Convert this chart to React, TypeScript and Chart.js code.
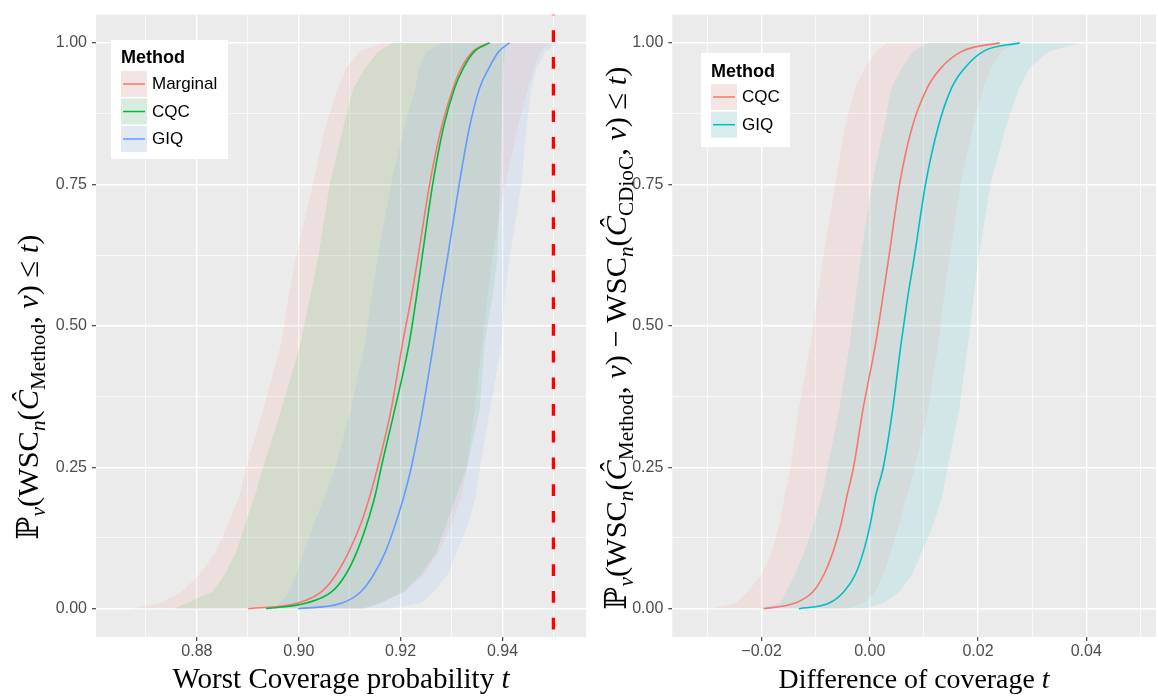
import React, { useEffect, useRef } from 'react';
import { Chart, registerables } from 'chart.js';

Chart.register(...registerables);

// ---------------- data ----------------
const PROB_LEVELS = [0, 0.01, 0.03, 0.06, 0.1, 0.15, 0.2, 0.25, 0.35, 0.47, 0.55, 0.62, 0.75, 0.85, 0.92, 0.955, 0.985, 1];

// Left panel: worst coverage probability t (quantiles at PROB_LEVELS)
const MARGINAL_MID = [0.8901, 0.8999, 0.9045, 0.9073, 0.9098, 0.9122, 0.914, 0.9155, 0.9181, 0.9204, 0.9221, 0.9234, 0.9257, 0.928, 0.9303, 0.9319, 0.9342, 0.9373];
const MARGINAL_LO = [0.8668, 0.8728, 0.877, 0.8805, 0.8837, 0.8862, 0.8884, 0.8897, 0.893, 0.8966, 0.898, 0.8994, 0.9028, 0.9052, 0.9077, 0.9093, 0.912, 0.9162];
const MARGINAL_HI = [0.912, 0.916, 0.921, 0.9245, 0.9275, 0.93, 0.932, 0.933, 0.9345, 0.936, 0.937, 0.938, 0.9405, 0.943, 0.945, 0.9462, 0.9475, 0.9492];

const CQC_MID = [0.8936, 0.9015, 0.9065, 0.9092, 0.9114, 0.9134, 0.915, 0.9162, 0.9188, 0.9217, 0.9231, 0.9242, 0.9263, 0.9284, 0.9306, 0.9323, 0.9345, 0.9375];
const CQC_LO = [0.8755, 0.878, 0.883, 0.8855, 0.8877, 0.8895, 0.8914, 0.893, 0.8965, 0.9004, 0.9022, 0.9038, 0.9061, 0.9087, 0.9107, 0.913, 0.9156, 0.9184];
const CQC_HI = [0.913, 0.916, 0.9205, 0.924, 0.927, 0.929, 0.931, 0.933, 0.9355, 0.9365, 0.938, 0.939, 0.9395, 0.9398, 0.94, 0.9402, 0.9405, 0.9408];

const GIQ_MID = [0.8999, 0.9085, 0.9122, 0.9147, 0.917, 0.919, 0.9207, 0.9221, 0.9243, 0.9265, 0.9279, 0.9292, 0.9315, 0.9335, 0.9355, 0.9373, 0.9393, 0.9414];
const GIQ_LO = [0.8955, 0.8965, 0.898, 0.8995, 0.901, 0.903, 0.9052, 0.9072, 0.9102, 0.913, 0.9143, 0.9155, 0.9181, 0.9207, 0.9229, 0.9236, 0.9251, 0.9279];
const GIQ_HI = [0.918, 0.924, 0.9265, 0.9292, 0.931, 0.9333, 0.9348, 0.9356, 0.9375, 0.9399, 0.9404, 0.9414, 0.9437, 0.9447, 0.9457, 0.9467, 0.9485, 0.951];

const TARGET_COVERAGE = 0.95;

// Right panel: difference of coverage t (relative to CDioC)
const DIFF_CQC_MID = [-0.0196, -0.0138, -0.0105, -0.0085, -0.0068, -0.0053, -0.0042, -0.003, -0.0013, 0.0011, 0.0024, 0.0035, 0.0055, 0.0078, 0.0106, 0.0131, 0.017, 0.024];
const DIFF_CQC_LO = [-0.0296, -0.0247, -0.0225, -0.0201, -0.0181, -0.0167, -0.0157, -0.0146, -0.0132, -0.0109, -0.0097, -0.0086, -0.0064, -0.0046, -0.0027, -0.0009, 0.0012, 0.0032];
const DIFF_CQC_HI = [-0.0044, -0.001, 0.001, 0.0025, 0.0039, 0.0055, 0.0069, 0.0083, 0.0107, 0.0127, 0.0137, 0.0147, 0.0168, 0.019, 0.021, 0.0223, 0.0244, 0.0271];

const DIFF_GIQ_MID = [-0.0131, -0.0075, -0.0048, -0.0027, -0.0012, 0.0001, 0.0011, 0.0025, 0.0042, 0.0058, 0.007, 0.0082, 0.0103, 0.0126, 0.0151, 0.0175, 0.021, 0.0277];
const DIFF_GIQ_LO = [-0.0208, -0.0166, -0.0154, -0.0139, -0.0121, -0.0103, -0.0089, -0.0078, -0.0057, -0.0037, -0.0026, -0.0017, 0.0004, 0.0026, 0.004, 0.0059, 0.008, 0.0107];
const DIFF_GIQ_HI = [-0.0009, 0.0025, 0.0055, 0.0078, 0.0096, 0.0118, 0.0134, 0.0144, 0.0165, 0.0182, 0.0192, 0.0201, 0.0223, 0.0251, 0.0276, 0.0295, 0.033, 0.039];

// Axes
const LEFT_X_MAJOR = [0.88, 0.9, 0.92, 0.94];
const LEFT_X_MINOR = [0.87, 0.89, 0.91, 0.93, 0.95];
const RIGHT_X_MAJOR = [-0.02, 0, 0.02, 0.04];
const RIGHT_X_MINOR = [-0.03, -0.01, 0.01, 0.03, 0.05];
const Y_MAJOR = [0, 0.25, 0.5, 0.75, 1];
const Y_MINOR = [0.125, 0.375, 0.625, 0.875];
const LEFT_X_LIMITS = [0.8602, 0.9564];
const RIGHT_X_LIMITS = [-0.0365, 0.0529];
const Y_LIMITS = [-0.05, 1.05];

const LEFT_METHODS = ['Marginal', 'CQC', 'GIQ'];
const RIGHT_METHODS = ['CQC', 'GIQ'];
const HUE3 = ['#F8766D', '#00BA38', '#619CFF'];
const HUE2 = ['#F8766D', '#00BFC4'];

// ---------------- helpers ----------------
const SERIF = '"Liberation Serif", "DejaVu Serif", serif';
const SANS = '"Liberation Sans", Arial, sans-serif';

type Seg = { t: string; it?: boolean; sub?: boolean };

function hexA(hex: string, a: number) {
  const n = parseInt(hex.slice(1), 16);
  return `rgba(${(n >> 16) & 255},${(n >> 8) & 255},${n & 255},${a})`;
}
const isIn = (arr: number[], v: number) => arr.some((a) => Math.abs(a - v) < 1e-9);

function segFont(s: Seg, size: number) {
  const sz = s.sub ? size * 0.7 : size;
  return `${s.it ? 'italic ' : ''}${sz}px ${SERIF}`;
}
function richWidth(ctx: CanvasRenderingContext2D, segs: Seg[], size: number) {
  let w = 0;
  for (const s of segs) {
    ctx.font = segFont(s, size);
    w += ctx.measureText(s.t).width;
  }
  return w;
}
function drawRich(ctx: CanvasRenderingContext2D, segs: Seg[], len: number, center: number, baseline: number, vertical: boolean) {
  ctx.save();
  const w0 = richWidth(ctx, segs, 20);
  const size = (20 * len) / w0;
  const w = richWidth(ctx, segs, size);
  ctx.fillStyle = '#000';
  ctx.textAlign = 'left';
  ctx.textBaseline = 'alphabetic';
  if (vertical) {
    ctx.translate(baseline, center);
    ctx.rotate(-Math.PI / 2);
  } else {
    ctx.translate(center, baseline);
  }
  let x = -w / 2;
  for (const s of segs) {
    ctx.font = segFont(s, size);
    ctx.fillText(s.t, x, s.sub ? size * 0.22 : 0);
    x += ctx.measureText(s.t).width;
  }
  ctx.restore();
}

type Series = { name: string; color: string; mid: number[]; lo: number[]; hi: number[] };
type LegendSpec = { x: number; y: number; w: number; h: number; titleBase: number; keyY: number; keyStep: number };
type PanelSpec = {
  series: Series[];
  vline?: number;
  xLimits: number[];
  xMajor: number[];
  xMinor: number[];
  xFmt: (v: number) => string;
  yAxisWidth: number;
  padRight: number;
  legend: LegendSpec;
  xTitle: { segs: Seg[]; center: number; baseline: number; len: number };
  yTitle: { segs: Seg[]; center: number; baseline: number; len: number };
};

function drawLegend(ctx: CanvasRenderingContext2D, L: LegendSpec, items: Series[]) {
  ctx.save();
  ctx.fillStyle = '#FFFFFF';
  ctx.fillRect(L.x, L.y, L.w, L.h);
  const kx = L.x + 10;
  ctx.fillStyle = '#000';
  ctx.font = `bold 18px ${SANS}`;
  ctx.textAlign = 'left';
  ctx.textBaseline = 'alphabetic';
  ctx.fillText('Method', kx, L.titleBase);
  items.forEach((it, i) => {
    const ky = L.keyY + i * L.keyStep;
    ctx.fillStyle = '#F2F2F2';
    ctx.fillRect(kx, ky, 26, 26);
    ctx.fillStyle = hexA(it.color, 0.1);
    ctx.fillRect(kx, ky, 26, 26);
    ctx.strokeStyle = it.color;
    ctx.lineWidth = 1.5;
    ctx.beginPath();
    ctx.moveTo(kx + 2, ky + 13);
    ctx.lineTo(kx + 24, ky + 13);
    ctx.stroke();
    ctx.fillStyle = '#000';
    ctx.font = `17px ${SANS}`;
    ctx.textBaseline = 'middle';
    ctx.fillText(it.name, kx + 31, ky + 13.5);
    ctx.textBaseline = 'alphabetic';
  });
  ctx.restore();
}

function buildConfig(spec: PanelSpec): any {
  const ribbons = spec.series.map((s, i) => ({
    label: s.name + ' band',
    data: [
      ...PROB_LEVELS.map((p, j) => ({ x: s.lo[j], y: p })),
      ...PROB_LEVELS.map((p, j) => ({ x: s.hi[j], y: p })).reverse(),
    ],
    fill: 'shape',
    backgroundColor: hexA(s.color, 0.1),
    borderWidth: 0,
    pointRadius: 0,
    tension: 0,
    order: 10 - i,
  }));
  const lines = spec.series.map((s, i) => ({
    label: s.name,
    data: PROB_LEVELS.map((p, j) => ({ x: s.mid[j], y: p })),
    fill: false,
    borderColor: s.color,
    borderWidth: 1.6,
    pointRadius: 0,
    cubicInterpolationMode: 'monotone',
    order: 5 - i,
  }));
  const datasets: any[] = [...lines, ...ribbons];
  if (spec.vline !== undefined) {
    datasets.push({
      label: 'target',
      data: [
        { x: spec.vline, y: Y_LIMITS[1] },
        { x: spec.vline, y: Y_LIMITS[0] },
      ],
      fill: false,
      borderColor: '#FF0000',
      borderWidth: 3.3,
      borderDash: [11.7, 15],
      borderDashOffset: 11,
      pointRadius: 0,
      order: 0,
    });
  }

  const xTicksAll = [...spec.xMajor, ...spec.xMinor].sort((a, b) => a - b);
  const yTicksAll = [...Y_MAJOR, ...Y_MINOR].sort((a, b) => a - b);

  const panelPlugin = {
    id: 'panelDecor',
    beforeDraw(chart: any) {
      const { ctx, chartArea: a } = chart;
      ctx.save();
      ctx.fillStyle = '#FFFFFF';
      ctx.fillRect(0, 0, chart.width, chart.height);
      ctx.fillStyle = '#EBEBEB';
      ctx.fillRect(a.left, a.top, a.right - a.left, a.bottom - a.top);
      ctx.restore();
    },
    afterDraw(chart: any) {
      const ctx = chart.ctx as CanvasRenderingContext2D;
      drawLegend(ctx, spec.legend, spec.series);
      drawRich(ctx, spec.xTitle.segs, spec.xTitle.len, spec.xTitle.center, spec.xTitle.baseline, false);
      drawRich(ctx, spec.yTitle.segs, spec.yTitle.len, spec.yTitle.center, spec.yTitle.baseline, true);
    },
  };

  return {
    type: 'line',
    data: { datasets },
    plugins: [panelPlugin],
    options: {
      animation: false,
      responsive: false,
      devicePixelRatio: 1,
      events: [],
      layout: { padding: { left: 0, right: spec.padRight, top: 6, bottom: 0 } },
      plugins: { legend: { display: false }, tooltip: { enabled: false }, title: { display: false } },
      scales: {
        x: {
          type: 'linear',
          min: spec.xLimits[0],
          max: spec.xLimits[1],
          afterBuildTicks: (s: any) => {
            s.ticks = xTicksAll.map((v) => ({ value: v }));
          },
          afterFit: (s: any) => {
            s.height = 59;
          },
          border: { display: false },
          grid: {
            color: '#FFFFFF',
            lineWidth: (c: any) => (c.tick && isIn(spec.xMajor, c.tick.value) ? 1.4 : 0.7),
            drawTicks: true,
            tickLength: 4,
            tickWidth: 1.1,
            tickColor: (c: any) => (c.tick && isIn(spec.xMajor, c.tick.value) ? '#333333' : 'rgba(0,0,0,0)'),
          },
          ticks: {
            autoSkip: false,
            maxRotation: 0,
            minRotation: 0,
            padding: 1,
            color: '#4D4D4D',
            font: { family: SANS, size: 16 },
            callback: (v: number) => (isIn(spec.xMajor, v) ? spec.xFmt(v) : ''),
          },
        },
        y: {
          type: 'linear',
          min: Y_LIMITS[0],
          max: Y_LIMITS[1],
          afterBuildTicks: (s: any) => {
            s.ticks = yTicksAll.map((v) => ({ value: v }));
          },
          afterFit: (s: any) => {
            s.width = spec.yAxisWidth;
          },
          border: { display: false },
          grid: {
            color: '#FFFFFF',
            lineWidth: (c: any) => (c.tick && isIn(Y_MAJOR, c.tick.value) ? 1.4 : 0.7),
            drawTicks: true,
            tickLength: 4,
            tickWidth: 1.1,
            tickColor: (c: any) => (c.tick && isIn(Y_MAJOR, c.tick.value) ? '#333333' : 'rgba(0,0,0,0)'),
          },
          ticks: {
            autoSkip: false,
            padding: 5,
            color: '#4D4D4D',
            font: { family: SANS, size: 16 },
            callback: (v: number) => (isIn(Y_MAJOR, v) ? v.toFixed(2) : ''),
          },
        },
      },
    },
  };
}

const fmtSigned = (v: number) => (v < -1e-12 ? '\u2212' + Math.abs(v).toFixed(2) : Math.abs(v).toFixed(2));

const LEFT_SPEC: PanelSpec = {
  series: LEFT_METHODS.map((name, i) => ({
    name,
    color: HUE3[i],
    mid: [MARGINAL_MID, CQC_MID, GIQ_MID][i],
    lo: [MARGINAL_LO, CQC_LO, GIQ_LO][i],
    hi: [MARGINAL_HI, CQC_HI, GIQ_HI][i],
  })),
  vline: TARGET_COVERAGE,
  xLimits: LEFT_X_LIMITS,
  xMajor: LEFT_X_MAJOR,
  xMinor: LEFT_X_MINOR,
  xFmt: (v) => v.toFixed(2),
  yAxisWidth: 96,
  padRight: 4,
  legend: { x: 111, y: 40, w: 117, h: 119, titleBase: 63, keyY: 71, keyStep: 27.5 },
  xTitle: { segs: [{ t: 'Worst Coverage probability ' }, { t: 't', it: true }], center: 341, baseline: 688, len: 337 },
  yTitle: {
    segs: [
      { t: '\u2119' }, { t: 'v', it: true, sub: true }, { t: '(WSC' }, { t: 'n', it: true, sub: true }, { t: '(' },
      { t: '\u0108', it: true }, { t: 'Method', sub: true }, { t: ', ' }, { t: 'v', it: true }, { t: ') \u2264 ' },
      { t: 't', it: true }, { t: ')' },
    ],
    center: 387,
    baseline: 38,
    len: 305,
  },
};

const RIGHT_SPEC: PanelSpec = {
  series: RIGHT_METHODS.map((name, i) => ({
    name,
    color: HUE2[i],
    mid: [DIFF_CQC_MID, DIFF_GIQ_MID][i],
    lo: [DIFF_CQC_LO, DIFF_GIQ_LO][i],
    hi: [DIFF_CQC_HI, DIFF_GIQ_HI][i],
  })),
  xLimits: RIGHT_X_LIMITS,
  xMajor: RIGHT_X_MAJOR,
  xMinor: RIGHT_X_MINOR,
  xFmt: fmtSigned,
  yAxisWidth: 82.3,
  padRight: 2,
  legend: { x: 111, y: 53, w: 89, h: 94, titleBase: 77, keyY: 84, keyStep: 27.7 },
  xTitle: { segs: [{ t: 'Difference of coverage ' }, { t: 't', it: true }], center: 324, baseline: 688, len: 271 },
  yTitle: {
    segs: [
      { t: '\u2119' }, { t: 'v', it: true, sub: true }, { t: '(WSC' }, { t: 'n', it: true, sub: true }, { t: '(' },
      { t: '\u0108', it: true }, { t: 'Method', sub: true }, { t: ', ' }, { t: 'v', it: true }, { t: ') \u2212 WSC' },
      { t: 'n', it: true, sub: true }, { t: '(' }, { t: '\u0108', it: true }, { t: 'CDioC', sub: true }, { t: ', ' },
      { t: 'v', it: true }, { t: ') \u2264 ' }, { t: 't', it: true }, { t: ')' },
    ],
    center: 338,
    baseline: 36,
    len: 543,
  },
};

function Panel({ spec, left, width }: { spec: PanelSpec; left: number; width: number }) {
  const ref = useRef<HTMLCanvasElement>(null);
  useEffect(() => {
    const chart = new Chart(ref.current as HTMLCanvasElement, buildConfig(spec));
    return () => chart.destroy();
  }, [spec]);
  return (
    <canvas
      ref={ref}
      width={width}
      height={696}
      style={{ position: 'absolute', left, top: 0, width, height: 696, display: 'block' }}
    />
  );
}

export default function App() {
  return (
    <div style={{ position: 'absolute', left: 0, top: 0, width: 1158, height: 696, background: '#FFFFFF', overflow: 'hidden' }}>
      <Panel spec={LEFT_SPEC} left={0} width={590} />
      <Panel spec={RIGHT_SPEC} left={590} width={568} />
    </div>
  );
}
